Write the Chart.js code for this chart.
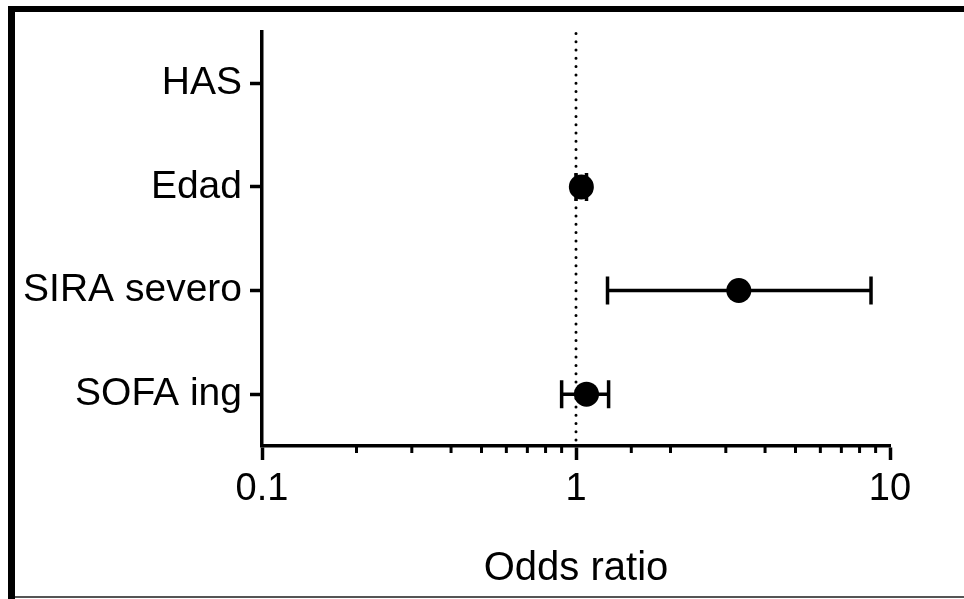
<!DOCTYPE html>
<html>
<head>
<meta charset="utf-8">
<script src="https://cdn.jsdelivr.net/npm/chart.js@4.4.1/dist/chart.umd.min.js"></script>
<style>
  html, body { margin: 0; padding: 0; background: #fff; }
  #wrap { position: relative; width: 964px; height: 599px; overflow: hidden; }
  #c { position: absolute; left: 0; top: 0; }
  .bar { position: absolute; background: #000; }
</style>
</head>
<body>
<div id="wrap">
  <canvas id="c" width="964" height="599"></canvas>
  <div class="bar" style="left:8px;top:6px;width:956px;height:6px;"></div>
  <div class="bar" style="left:8px;top:6px;width:7px;height:593px;"></div>
  <div class="bar" style="left:15px;top:596px;width:949px;height:2px;background:#555;"></div>
</div>
<script>
// ---- data ----
const categories = ['HAS', 'Edad', 'SIRA severo', 'SOFA ing'];
const oddsRatio = [null, 1.04, 3.30, 1.08];
const ciLower   = [null, 1.00, 1.26, 0.90];
const ciUpper   = [null, 1.08, 8.70, 1.27];
const xTickLabels = [0.1, 1, 10];
const referenceValue = 1;
const xAxisTitle = 'Odds ratio';

const FONT = "'Liberation Sans', Arial, Helvetica, sans-serif";

const pointData = [];
categories.forEach((c, i) => {
  if (oddsRatio[i] != null) pointData.push({ x: oddsRatio[i], y: c });
});

const ciDatasets = [];
categories.forEach((c, i) => {
  if (ciLower[i] == null || ciUpper[i] == null) return;
  ciDatasets.push({
    type: 'line',
    data: [{ x: ciLower[i], y: c }, { x: ciUpper[i], y: c }],
    showLine: true,
    borderColor: '#000',
    borderWidth: 3.5,
    pointStyle: 'line',
    pointRotation: 90,
    pointRadius: 14,
    pointBorderWidth: 3.5,
    pointBorderColor: '#000',
    pointBackgroundColor: '#000',
    fill: false
  });
});

const isMajor = v => xTickLabels.some(t => Math.abs(t - v) < 1e-9);

const refLinePlugin = {
  id: 'refLine',
  beforeDatasetsDraw(chart) {
    const { ctx, chartArea, scales } = chart;
    const x = scales.x.getPixelForValue(referenceValue);
    ctx.save();
    ctx.strokeStyle = '#000';
    ctx.lineWidth = 3;
    ctx.lineCap = 'round';
    ctx.setLineDash([0, 8.3]);
    ctx.beginPath();
    ctx.moveTo(x, chartArea.top + 2);
    ctx.lineTo(x, chartArea.bottom);
    ctx.stroke();
    ctx.restore();
  }
};

const minorTickPlugin = {
  id: 'minorTicks',
  afterDraw(chart) {
    const { ctx, scales } = chart;
    const sx = scales.x;
    const y0 = sx.top;
    ctx.save();
    ctx.strokeStyle = '#000';
    ctx.lineWidth = 3;
    sx.ticks.forEach(t => {
      if (isMajor(t.value)) return;
      const x = sx.getPixelForValue(t.value);
      ctx.beginPath();
      ctx.moveTo(x, y0);
      ctx.lineTo(x, y0 + 7);
      ctx.stroke();
    });
    ctx.restore();
  }
};

new Chart(document.getElementById('c'), {
  type: 'scatter',
  data: {
    datasets: [
      {
        data: pointData,
        pointRadius: 12.5,
        pointHoverRadius: 12.5,
        pointBackgroundColor: '#000',
        pointBorderColor: '#000',
        pointBorderWidth: 0,
        showLine: false
      },
      ...ciDatasets
    ]
  },
  options: {
    responsive: false,
    animation: false,
    events: [],
    layout: { padding: { left: 0, right: 74, top: 30, bottom: 0 } },
    plugins: { legend: { display: false }, tooltip: { enabled: false } },
    scales: {
      x: {
        type: 'logarithmic',
        position: 'bottom',
        min: 0.1,
        max: 10,
        border: { display: true, color: '#000', width: 3.5 },
        grid: {
          drawOnChartArea: false,
          drawTicks: true,
          tickLength: 14,
          tickWidth: 3.5,
          tickColor: ctx => (ctx.tick && isMajor(ctx.tick.value)) ? '#000' : 'rgba(0,0,0,0)'
        },
        ticks: {
          autoSkip: false,
          maxRotation: 0,
          minRotation: 0,
          padding: 7,
          color: '#000',
          font: { family: FONT, size: 38 },
          callback: (v) => isMajor(v) ? String(v) : ''
        },
        title: {
          display: true,
          text: xAxisTitle,
          color: '#000',
          font: { family: FONT, size: 40 },
          padding: { top: 0, bottom: 6 }
        },
        afterFit: s => { s.height = 153; }
      },
      y: {
        type: 'category',
        labels: categories,
        offset: true,
        border: { display: true, color: '#000', width: 3.5 },
        grid: {
          offset: false,
          drawOnChartArea: false,
          drawTicks: true,
          tickLength: 12,
          tickWidth: 3.5,
          tickColor: '#000'
        },
        ticks: {
          padding: 8,
          color: '#000',
          font: { family: FONT, size: 39 }
        },
        afterFit: s => { s.width = 262; }
      }
    }
  },
  plugins: [refLinePlugin, minorTickPlugin]
});
</script>
</body>
</html>
